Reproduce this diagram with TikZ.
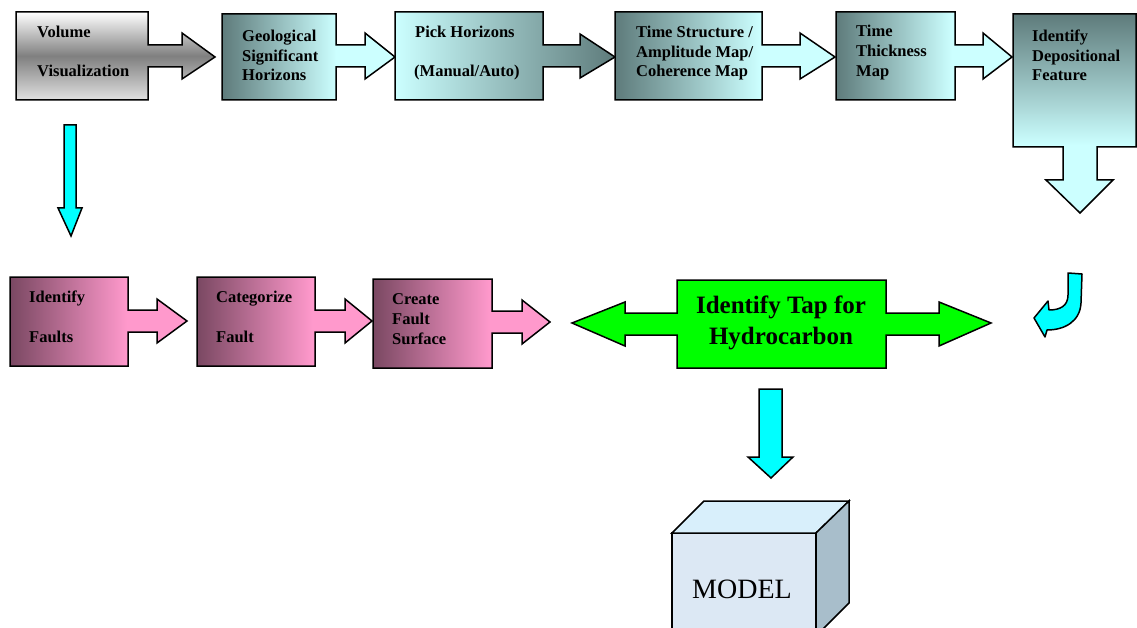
\documentclass[tikz,border=0pt]{standalone}
\usepackage{fontspec}
\setmainfont{Liberation Serif}
\definecolor{slate}{HTML}{5E7B7B}
\definecolor{lcyan}{HTML}{CCFFFF}
\definecolor{mauve}{HTML}{7A4862}
\definecolor{lpink}{HTML}{FF99CC}
\definecolor{aqua}{HTML}{00FFFF}
\definecolor{limeg}{HTML}{00FF00}
\definecolor{cubefront}{HTML}{DCE8F4}
\definecolor{cubetop}{HTML}{D8EFFB}
\definecolor{cuberight}{HTML}{A8BECB}
\pgfdeclarehorizontalshading{slateLR}{100bp}{color(0bp)=(slate); color(25bp)=(slate); color(58bp)=(lcyan); color(100bp)=(lcyan)}
\pgfdeclarehorizontalshading{slateRL}{100bp}{color(0bp)=(lcyan); color(25bp)=(lcyan); color(75bp)=(slate); color(100bp)=(slate)}
\pgfdeclarehorizontalshading{pinkLR}{100bp}{color(0bp)=(mauve); color(25bp)=(mauve); color(58bp)=(lpink); color(100bp)=(lpink)}
\pgfdeclareverticalshading{grayV}{100bp}{color(0bp)=(white); color(25bp)=(white!88!black); color(50bp)=(white!50!black); color(75bp)=(white); color(100bp)=(white)}
\pgfdeclareverticalshading{slateV}{100bp}{color(0bp)=(lcyan); color(42bp)=(lcyan); color(75bp)=(slate); color(100bp)=(slate)}
\tikzset{
  blk/.style={draw=black, line width=1.5pt, line join=miter},
  cy/.style={draw=black, line width=1.5pt, fill=aqua, line join=miter},
  lbl/.style={font=\bfseries\fontsize{16.5}{19}\selectfont, anchor=base west, inner sep=0pt},
  big/.style={font=\bfseries\fontsize{25}{30}\selectfont, anchor=base, inner sep=0pt},
}
\begin{document}
\begin{tikzpicture}[x=1pt,y=-1pt]
\useasboundingbox (0,0) rectangle (1137,628);
% top row
\shadedraw[blk, shading=grayV] (16,12) -- (148,12) -- (148,45) -- (182,45) -- (182,33) -- (215,57) -- (182,79) -- (182,67) -- (148,67) -- (148,100) -- (16,100) -- cycle;
\shadedraw[blk, shading=slateLR] (222,14) -- (336,14) -- (336,45) -- (365,45) -- (365,33) -- (395,57) -- (365,79) -- (365,67) -- (336,67) -- (336,100) -- (222,100) -- cycle;
\shadedraw[blk, shading=slateRL] (395,12) -- (543,12) -- (543,45) -- (580,45) -- (580,34) -- (615,57) -- (580,78) -- (580,67) -- (543,67) -- (543,100) -- (395,100) -- cycle;
\shadedraw[blk, shading=slateLR] (615,12) -- (762,12) -- (762,45) -- (800,45) -- (800,33) -- (835,57) -- (800,79) -- (800,67) -- (762,67) -- (762,100) -- (615,100) -- cycle;
\shadedraw[blk, shading=slateLR] (836,12) -- (955,12) -- (955,45) -- (983,45) -- (983,33) -- (1012,57) -- (983,79) -- (983,67) -- (955,67) -- (955,100) -- (836,100) -- cycle;
\shadedraw[blk, shading=slateV] (1013,14) -- (1136,14) -- (1136,147) -- (1097,147) -- (1097,180) -- (1113,180) -- (1080,213) -- (1046,180) -- (1063,180) -- (1063,147) -- (1013,147) -- cycle;
\node[lbl] (b1a) at (37,38) {Volume};
\node[lbl] (b1b) at (37,77) {Visualization};
\node[lbl] (b2a) at (242,42) {Geological};
\node[lbl] (b2b) at (242,61.5) {Significant};
\node[lbl] (b2c) at (242,81) {Horizons};
\node[lbl] (b3a) at (415,37.5) {Pick Horizons};
\node[lbl] (b3b) at (414,76.5) {(Manual/Auto)};
\node[lbl] (b4a) at (636,37.5) {Time Structure /};
\node[lbl] (b4b) at (636,57.5) {Amplitude Map/};
\node[lbl] (b4c) at (636,77) {Coherence Map};
\node[lbl] (b5a) at (856,37) {Time};
\node[lbl] (b5b) at (856,57) {Thickness};
\node[lbl] (b5c) at (856,77) {Map};
\node[lbl] (b6a) at (1032,42) {Identify};
\node[lbl] (b6b) at (1032,61.5) {Depositional};
\node[lbl] (b6c) at (1032,80.5) {Feature};
% left down arrow
\draw[cy] (64,125) -- (76,125) -- (76,208) -- (82,208) -- (71,236) -- (58,208) -- (64,208) -- cycle;
% fault row
\shadedraw[blk, shading=pinkLR] (10,277) -- (128,277) -- (128,310) -- (157,310) -- (157,299) -- (187,321) -- (157,343) -- (157,332) -- (128,332) -- (128,366) -- (10,366) -- cycle;
\shadedraw[blk, shading=pinkLR] (197,277) -- (315,277) -- (315,310) -- (345,310) -- (345,299) -- (372,321) -- (345,343) -- (345,332) -- (315,332) -- (315,366) -- (197,366) -- cycle;
\shadedraw[blk, shading=pinkLR] (373,279) -- (492,279) -- (492,311) -- (522,311) -- (522,300) -- (550,322) -- (522,344) -- (522,333) -- (492,333) -- (492,368) -- (373,368) -- cycle;
\node[lbl] (f1a) at (29,302) {Identify};
\node[lbl] (f1b) at (29,342) {Faults};
\node[lbl] (f2a) at (216,302) {Categorize};
\node[lbl] (f2b) at (216,342) {Fault};
\node[lbl] (f3a) at (392,304) {Create};
\node[lbl] (f3b) at (392,324) {Fault};
\node[lbl] (f3c) at (392,344) {Surface};
% green double arrow
\draw[blk, fill=limeg] (677,280) -- (886,280) -- (886,313) -- (939,313) -- (939,302) -- (991,323) -- (939,346) -- (939,335) -- (886,335) -- (886,368) -- (677,368) -- (677,335) -- (625,335) -- (625,346) -- (572,323) -- (625,302) -- (625,313) -- (677,313) -- cycle;
\node[big] (g1) at (781,313) {Identify Tap for};
\node[big] (g2) at (781,344) {Hydrocarbon};
% curved arrow
\draw[cy, line join=round] (1068,273) -- (1082,274) -- (1081,303) .. controls (1080,322) and (1064,330) .. (1047,330) -- (1045,337) -- (1034,318) -- (1048,301) -- (1049,310) .. controls (1060,310) and (1068,306) .. (1068,295) -- cycle;
% down arrow to model
\draw[cy] (759,389) -- (782,389) -- (782,457) -- (793,457) -- (771,478) -- (748,457) -- (759,457) -- cycle;
% cube
\draw[blk, fill=cubefront] (672,533) -- (816,533) -- (816,640) -- (672,640) -- cycle;
\draw[blk, fill=cubetop] (672,533) -- (704,501) -- (849,501) -- (816,533) -- cycle;
\draw[blk, fill=cuberight] (816,533) -- (849,501) -- (849,603) -- (816,636) -- cycle;
\node[font=\fontsize{28}{32}\selectfont, anchor=base, inner sep=0pt] (model) at (742,598) {MODEL};
\end{tikzpicture}
\end{document}
